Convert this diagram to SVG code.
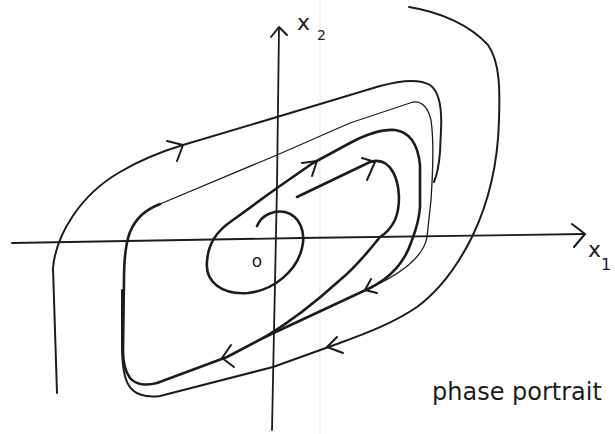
<svg xmlns="http://www.w3.org/2000/svg" width="615" height="434" viewBox="0 0 615 434">
<style>
.ink{fill:none;stroke:#1c1c1c;stroke-linecap:round;stroke-linejoin:round}
.axis{stroke-width:1.8}
.thick{stroke-width:2.6}
.med{stroke-width:2}
.thin{stroke-width:1.3}
.arr{fill:none;stroke:#1c1c1c;stroke-width:2;stroke-linecap:round;stroke-linejoin:round}
.lbl{font-family:"DejaVu Sans","Liberation Sans",sans-serif;fill:#1c1c1c}
</style>
<rect width="615" height="434" fill="#ffffff"/>
<line x1="320" y1="0" x2="320" y2="434" stroke="#e3e5ee" stroke-width="1"/>
<g id="axes">
<path class="ink axis" d="M272,430 L273,380 L277,185 L279,28"/>
<polyline class="arr" points="271,37 279,27 287,35"/>
<path class="ink axis" d="M12,243 L300,238 L585,234"/>
<polyline class="arr" points="572,224 585,234 574,247"/>
</g>
<g id="trajectories">
<path id="curveA" class="ink med" d="M57,393 L53,268 C56,235 80,195 120,172 C140,160 160,152 183,145 L267,120 L380,86 C402,80 420,79 430,85 C440,92 442,110 441,130 L440,152 C439,165 437,175 434,182"/>
<path id="curveB" class="ink thin" d="M160,204 L277,155 L350,123 L413,102 C422,101 428,108 431,120 C434,140 433,170 431,200 L427,237 C424,255 405,272 370,288"/>
<path id="curveC" class="ink thick" d="M257,226 C262,214 275,210 285,212 C300,216 306,232 302,248 C297,270 275,290 248,293 C222,295 205,282 207,262 C208,245 215,232 233,220 L277,188 L313,163 L350,143 C365,135 380,129 395,130 C410,132 418,145 420,165 L420,207 C419,222 415,232 412,240 C405,262 390,278 370,288 L265,337 L227,357 L157,383 C145,386 135,384 130,378 C124,370 123,360 123,350 L124,280 C124,260 125,245 130,232 C136,218 145,210 160,204"/>
<path id="curveD" class="ink thick" d="M297,197 L370,162 C380,159 388,163 393,172 C400,185 401,205 395,220 C391,228 385,234 380,237 C368,252 355,268 340,280 C318,300 290,322 265,337"/>
<path id="curveE" class="ink med" d="M409,7 C440,12 470,25 488,45 C500,62 500,90 499,120 C498,160 490,200 472,237 C458,265 440,290 417,307 C395,322 370,332 337,344 L273,367 L160,396 C145,398 133,394 128,384 C123,375 122,360 122,345 L122,290"/>
</g>
<g id="arrows">
<polyline class="arr" points="167,141 183,145 177,161"/>
<polyline class="arr" points="302,163 317,161 312,176"/>
<polyline class="arr" points="362,158 375,162 367,180"/>
<polyline class="arr" points="377,293 365,290 371,279"/>
<polyline class="arr" points="231,345 222,358 234,367"/>
<polyline class="arr" points="337,337 327,347 343,353"/>
</g>
<g id="labels">
<text class="lbl" x="297" y="30" font-size="22">x</text>
<text class="lbl" x="317" y="40" font-size="14">2</text>
<text class="lbl" x="588" y="257" font-size="22">x</text>
<text class="lbl" x="601" y="270" font-size="16">1</text>
<text class="lbl" x="257" y="267" font-size="17" text-anchor="middle">o</text>
<text class="lbl" x="432" y="400" font-size="24">phase portrait</text>
</g>
</svg>
